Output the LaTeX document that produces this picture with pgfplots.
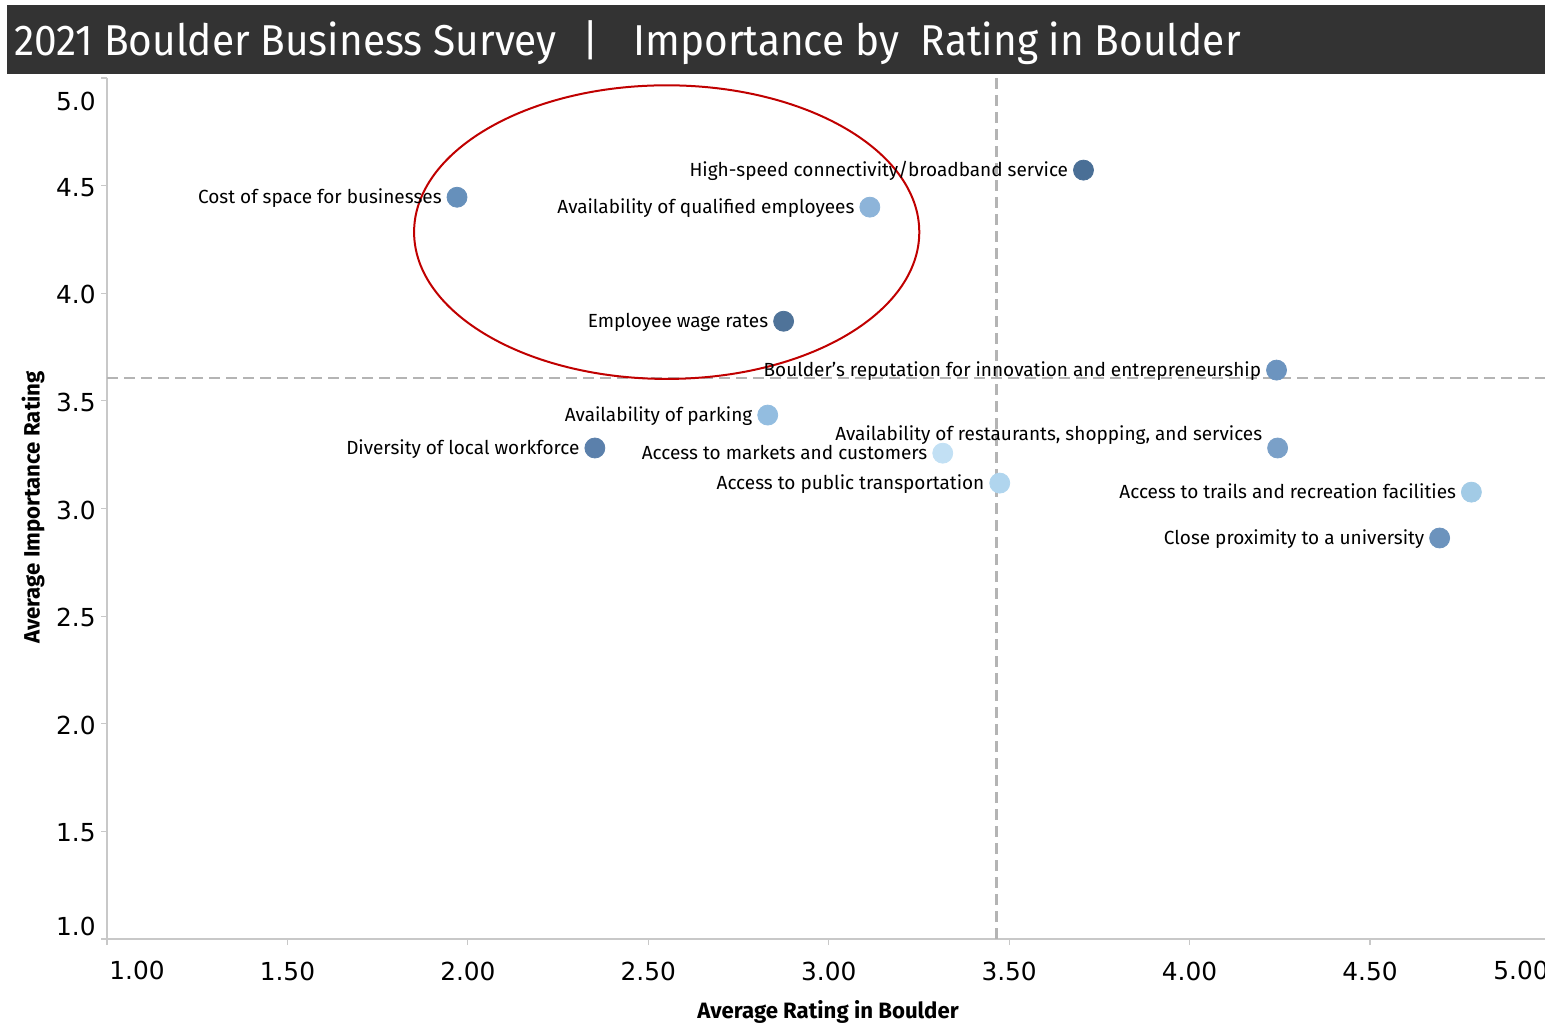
\documentclass[border=0pt]{standalone}
\usepackage{fontspec}
\setmainfont{Fira Sans}
\newfontfamily\tickfont{DejaVu Sans}
\newfontfamily\titlefont{Fira Sans}[FakeStretch=0.94]
\usepackage{pgfplots}
\pgfplotsset{compat=1.18}
\definecolor{titlebg}{HTML}{333333}
\definecolor{axgray}{HTML}{C8C8C8}
\definecolor{refgray}{HTML}{B4B4B4}
\definecolor{ringred}{HTML}{C00000}
\definecolor{p1}{HTML}{6690BB}
\definecolor{p2}{HTML}{4A6F96}
\definecolor{p3}{HTML}{8DB4D9}
\definecolor{p4}{HTML}{4F7399}
\definecolor{p5}{HTML}{6C94BF}
\definecolor{p6}{HTML}{93BDE0}
\definecolor{p7}{HTML}{5B80AB}
\definecolor{p8}{HTML}{C2E0F4}
\definecolor{p9}{HTML}{7AA0C8}
\definecolor{p10}{HTML}{B0D5EE}
\definecolor{p11}{HTML}{A2CBE6}
\definecolor{p12}{HTML}{6C93BD}
\newcommand{\lbl}{\fontsize{9.5}{11}\selectfont}
\newcommand{\tk}{\tickfont\fontsize{12.4}{14}\selectfont}
\newcommand{\ttl}{\titlefont\fontsize{21.6}{24}\selectfont}
\pgfplotsset{
  dot/.style={only marks, mark=*, mark size=5pt, color=#1, mark options={draw=none, fill=#1},
    nodes near coords, point meta=explicit symbolic,
    nodes near coords style={anchor=base east, inner sep=0pt, xshift=-7.5pt, yshift=-3.3pt, font=\lbl, text=black}},
}
\begin{document}
\begin{tikzpicture}
% title bar
\fill[titlebg] (3.5pt,474.5pt) rectangle (772.5pt,509pt);
\node[anchor=base west, inner sep=0pt, text=white, font=\ttl] at (7pt,483.5pt) {2021 Boulder Business Survey};
\node[anchor=base, inner sep=0pt, text=white, font=\ttl] at (295.5pt,483.5pt) {|};
\node[anchor=base west, inner sep=0pt, text=white, font=\ttl] at (316.5pt,483.5pt) {Importance by\ \ Rating in Boulder};
\begin{axis}[
  at={(53.5pt,42pt)}, anchor=south west,
  scale only axis, width=719pt, height=430.5pt,
  xmin=1, xmax=4.985, ymin=1, ymax=5,
  axis lines=left, axis line style={axgray, line width=0.8pt, -},
  xtick={1,1.5,2,2.5,3,3.5,4,4.5},
  xticklabels={,1.50,2.00,2.50,3.00,3.50,4.00,4.50},
  ytick={1,1.5,2,2.5,3,3.5,4,4.5,5},
  yticklabels={,1.5,2.0,2.5,3.0,3.5,4.0,4.5,},
  tick align=outside, major tick length=3pt,
  tick style={axgray, line width=0.6pt},
  /pgf/number format/assume math mode=true,
  xticklabel style={anchor=base, inner sep=0pt, yshift=-17.5pt, font=\tk},
  yticklabel style={anchor=east, inner sep=0pt, xshift=-2.5pt, yshift=-0.8pt, font=\tk},
  clip=false,
]
% reference lines
\addplot[refgray, line width=1.2pt, dash pattern=on 5.5pt off 3pt] coordinates {(3.465,1) (3.465,5)};
\addplot[refgray, line width=1.2pt, dash pattern=on 5.5pt off 3pt] coordinates {(1,3.606) (4.985,3.606)};
% points
\addplot[dot=p1] coordinates {(1.970,4.446) [Cost of space for businesses]};
\addplot[dot=p2] coordinates {(3.706,4.572) [High-speed connectivity/broadband service]};
\addplot[dot=p3] coordinates {(3.114,4.400) [Availability of qualified employees]};
\addplot[dot=p4] coordinates {(2.875,3.870) [Employee wage rates]};
\addplot[dot=p5] coordinates {(4.241,3.643) [Boulder’s reputation for innovation and entrepreneurship]};
\addplot[dot=p6] coordinates {(2.831,3.434) [Availability of parking]};
\addplot[dot=p7] coordinates {(2.352,3.281) [Diversity of local workforce]};
\addplot[dot=p8] coordinates {(3.316,3.257) [Access to markets and customers]};
\addplot[dot=p9, nodes near coords style={yshift=7.3pt}] coordinates {(4.244,3.281) [Availability of restaurants, shopping, and services]};
\addplot[dot=p10] coordinates {(3.474,3.118) [Access to public transportation]};
\addplot[dot=p11] coordinates {(4.781,3.076) [Access to trails and recreation facilities]};
\addplot[dot=p12] coordinates {(4.693,2.863) [Close proximity to a university]};
% highlight ring
\draw[ringred, line width=1pt] (axis cs:2.551,4.284) ellipse [x radius=0.70, y radius=0.682];
\end{axis}
% edge tick labels
\node[anchor=base, inner sep=0pt, font=\tk] at (68.5pt,22pt) {1.00};
\node[anchor=base, inner sep=0pt, font=\tk] at (760.5pt,22pt) {5.00};
\node[anchor=east, inner sep=0pt, font=\tk] at (48pt,461pt) {5.0};
\node[anchor=east, inner sep=0pt, font=\tk] at (48pt,48.5pt) {1.0};
% axis titles
\node[anchor=base, inner sep=0pt, font=\fontsize{11.1}{13}\selectfont\bfseries] at (414pt,2.5pt) {Average Rating in Boulder};
\node[rotate=90, inner sep=0pt, font=\fontsize{11.1}{13}\selectfont\bfseries] at (16.5pt,257.75pt) {Average Importance Rating};
\pgfresetboundingbox
\useasboundingbox (0,0) rectangle (772.5pt,511.5pt);
\end{tikzpicture}
\end{document}
